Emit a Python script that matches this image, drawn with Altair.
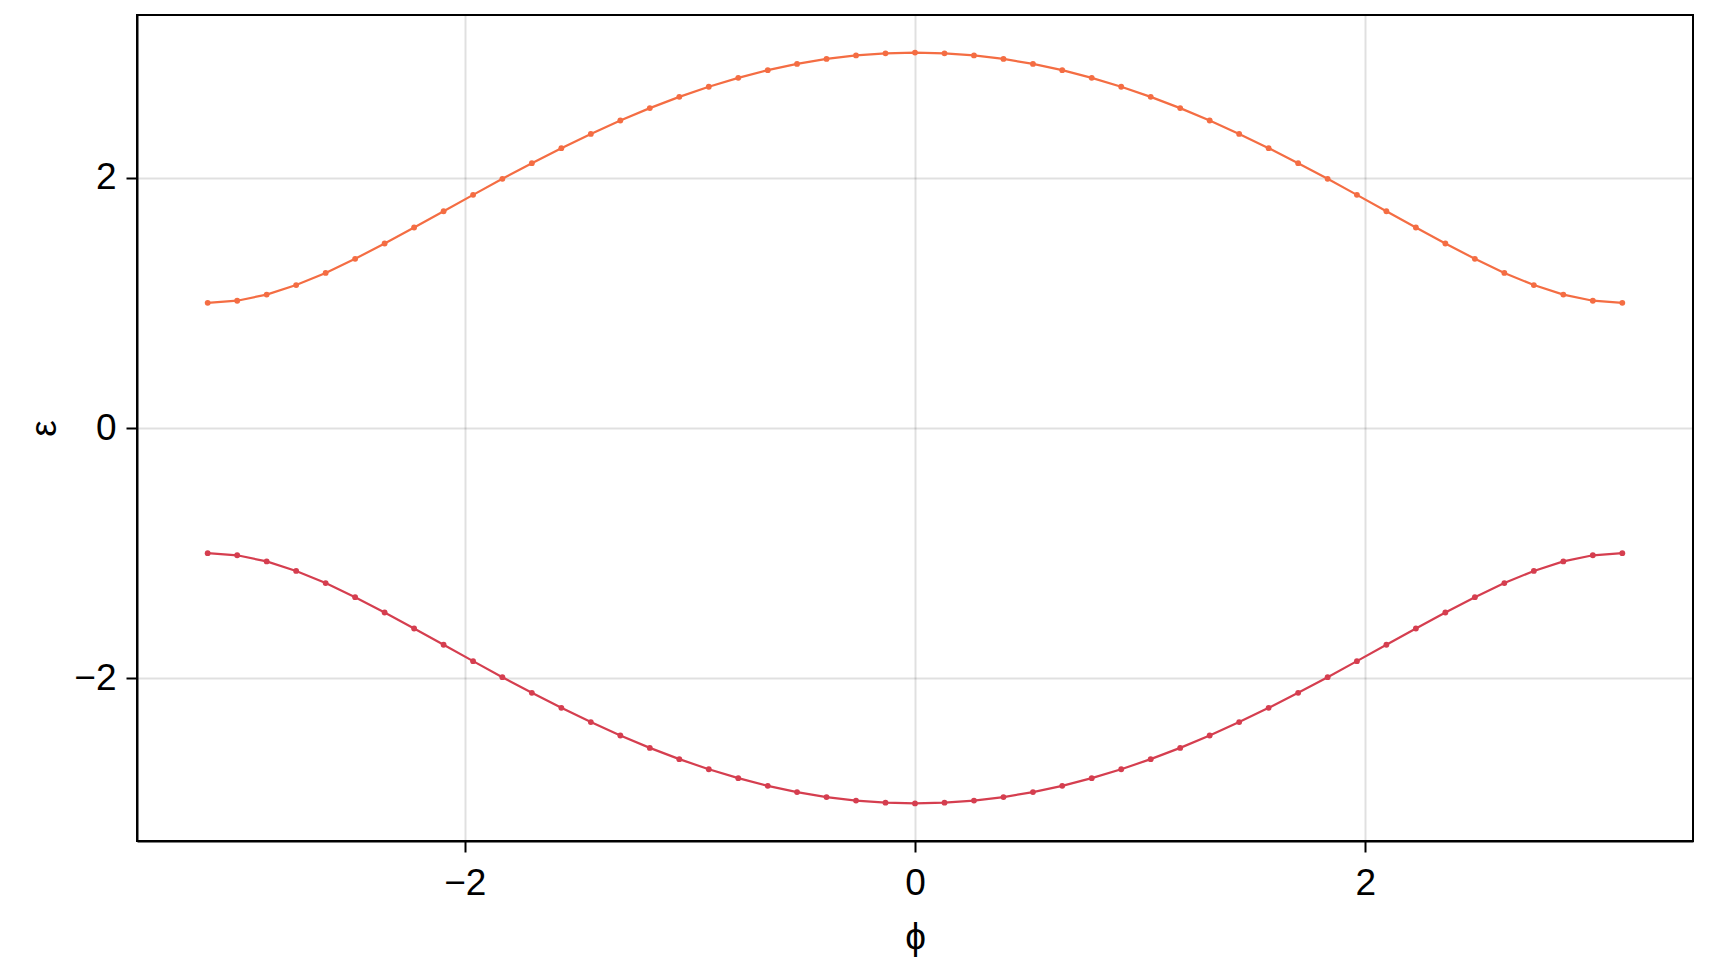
import altair as alt
import pandas as pd

phi = [-3.142, -3.011, -2.880, -2.749, -2.618, -2.487, -2.356, -2.225, -2.094, -1.963,
       -1.833, -1.702, -1.571, -1.440, -1.309, -1.178, -1.047, -0.916, -0.785, -0.654,
       -0.524, -0.393, -0.262, -0.131, 0.0, 0.131, 0.262, 0.393, 0.524, 0.654,
       0.785, 0.916, 1.047, 1.178, 1.309, 1.440, 1.571, 1.702, 1.833, 1.963,
       2.094, 2.225, 2.356, 2.487, 2.618, 2.749, 2.880, 3.011, 3.142]

upper = [1.000, 1.017, 1.066, 1.142, 1.239, 1.352, 1.474, 1.602, 1.732, 1.863,
         1.991, 2.116, 2.236, 2.350, 2.457, 2.556, 2.646, 2.727, 2.798, 2.859,
         2.909, 2.949, 2.977, 2.994, 3.000, 2.994, 2.977, 2.949, 2.909, 2.859,
         2.798, 2.727, 2.646, 2.556, 2.457, 2.350, 2.236, 2.116, 1.991, 1.863,
         1.732, 1.602, 1.474, 1.352, 1.239, 1.142, 1.066, 1.017, 1.000]

lower = [-1.000, -1.017, -1.066, -1.142, -1.239, -1.352, -1.474, -1.602, -1.732, -1.863,
         -1.991, -2.116, -2.236, -2.350, -2.457, -2.556, -2.646, -2.727, -2.798, -2.859,
         -2.909, -2.949, -2.977, -2.994, -3.000, -2.994, -2.977, -2.949, -2.909, -2.859,
         -2.798, -2.727, -2.646, -2.556, -2.457, -2.350, -2.236, -2.116, -1.991, -1.863,
         -1.732, -1.602, -1.474, -1.352, -1.239, -1.142, -1.066, -1.017, -1.000]

series_names = ["upper", "lower"]
series_colors = ["#F46D43", "#D53E4F"]
x_ticks = [-2, 0, 2]
y_ticks = [-2, 0, 2]

rows = []
for name, vals in zip(series_names, [upper, lower]):
    for p, e in zip(phi, vals):
        rows.append({"phi": p, "eps": e, "band": name})
df = pd.DataFrame(rows)

FONT = "Liberation Sans"

x_enc = alt.X("phi:Q",
              scale=alt.Scale(domain=[-3.456, 3.456], nice=False, zero=False),
              axis=alt.Axis(values=x_ticks, title="ϕ", format="d",
                            labelPadding=13, titleY=107, titleBaseline="alphabetic"))
y_enc = alt.Y("eps:Q",
              scale=alt.Scale(domain=[-3.3, 3.3], nice=False, zero=False),
              axis=alt.Axis(values=y_ticks, title="ε", format="d",
                            labelPadding=10, titleAngle=270, titleX=-82,
                            titleY=413, titleAlign="center", titleBaseline="alphabetic"))
color_enc = alt.Color("band:N",
                      scale=alt.Scale(domain=series_names, range=series_colors),
                      legend=None)

base = alt.Chart(df).encode(x=x_enc, y=y_enc, color=color_enc, detail="band:N")

lines = base.mark_line(strokeWidth=2.2)
points = base.mark_point(filled=True, size=34, opacity=1, shape="circle")

chart = alt.layer(lines, points).properties(
    width=1556, height=826,
    autosize=alt.AutoSizeParams(type="none"),
    padding={"left": 129, "top": 7, "right": 4, "bottom": 119},
).configure_view(
    stroke="black", strokeWidth=2
).configure_axis(
    labelFont=FONT, titleFont=FONT,
    labelFontSize=37, titleFontSize=37, titleFontWeight="normal",
    labelColor="black", titleColor="black",
    domainColor="black", domainWidth=2,
    tickColor="black", tickWidth=2, tickSize=11,
    gridColor="black", gridOpacity=0.12, gridWidth=2,
)

chart.save("out.html", embed_options={"renderer": "svg", "actions": False})
